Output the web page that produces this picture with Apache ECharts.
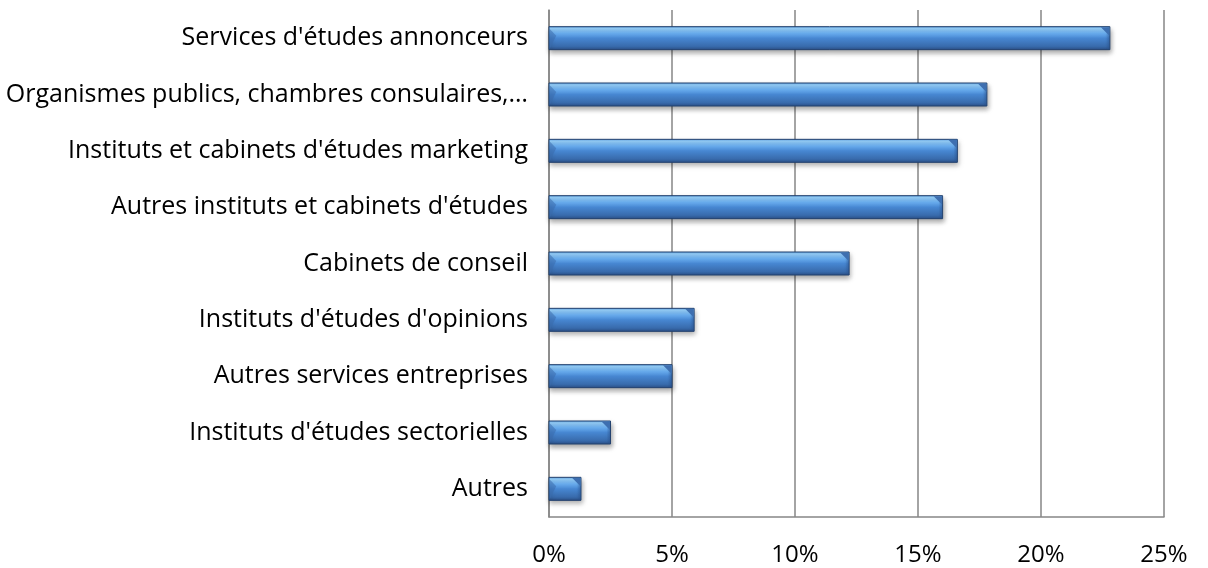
<!DOCTYPE html>
<html>
<head>
<meta charset="utf-8">
<script src="https://cdn.jsdelivr.net/npm/echarts@6/dist/echarts.min.js"></script>
<style>
	html, body { margin: 0; padding: 0; background: #fff; }
	#chart { width: 1208px; height: 568px; }
</style>
</head>
<body>
<div id="chart"></div>
<script>
// catégories, de bas en haut (l'axe Y catégorie part du bas)
var categories = [
	'Autres',
	'Instituts d\'études sectorielles',
	'Autres services entreprises',
	'Instituts d\'études d\'opinions',
	'Cabinets de conseil',
	'Autres instituts et cabinets d\'études',
	'Instituts et cabinets d\'études marketing',
	'Organismes publics, chambres consulaires,…',
	'Services d\'études annonceurs'
];
var values = [1.3, 2.5, 5.0, 5.9, 12.2, 16.0, 16.6, 17.8, 22.8];
var xTicks = [0, 5, 10, 15, 20, 25];

var chart = echarts.init(document.getElementById('chart'));

var BAR_H = 23;
var BEVEL = 9;

// barre façon Excel : dégradé + biseaux aux extrémités
function renderBar(params, api) {
	var idx = api.value(0);
	var val = api.value(1);
	var p0 = api.coord([0, idx]);
	var p1 = api.coord([val, idx]);
	var x0 = p0[0], x1 = p1[0];
	var y0 = p0[1] - BAR_H / 2, y1 = p0[1] + BAR_H / 2;
	var b = Math.min(BEVEL, (x1 - x0) / 2);
	var body = new echarts.graphic.LinearGradient(0, 0, 0, 1, [
		{ offset: 0, color: '#5a9fe4' },
		{ offset: 0.1, color: '#98d2fd' },
		{ offset: 0.3, color: '#6aaef0' },
		{ offset: 0.5, color: '#4787d2' },
		{ offset: 0.85, color: '#386aab' },
		{ offset: 1, color: '#2a4e85' }
	]);
	var edge = new echarts.graphic.LinearGradient(0, 0, 1, 0, [
		{ offset: 0, color: 'rgba(40,80,140,0)' },
		{ offset: 1, color: 'rgba(40,80,140,0.45)' }
	]);
	return {
		type: 'group',
		children: [{
			type: 'rect',
			shape: { x: x0, y: y0, width: x1 - x0, height: BAR_H },
			style: {
				fill: body,
				stroke: '#23426f',
				lineWidth: 1,
				shadowColor: 'rgba(0,0,0,0.35)',
				shadowBlur: 5,
				shadowOffsetX: 1,
				shadowOffsetY: 3
			}
		}, {
			type: 'rect',
			shape: { x: x1 - 4, y: y0 + 0.5, width: 3.5, height: BAR_H - 1 },
			style: { fill: edge }
		}, {
			type: 'polygon',
			shape: { points: [[x1 - b, y0 + 0.5], [x1 - 0.5, y0 + 0.5], [x1 - 0.5, y0 + b]] },
			style: { fill: '#3e6fb0' }
		}, {
			type: 'polygon',
			shape: { points: [[x0 + 0.5, y0 + 2], [x0 + b * 0.8, y0 + b], [x0 + 0.5, y1 - 0.5]] },
			style: { fill: '#3a6cad', opacity: 0.55 }
		}]
	};
}

var option = {
	animation: false,
	grid: {
		left: 549,
		right: 44,
		top: 10,
		bottom: 51
	},
	xAxis: {
		type: 'value',
		min: 0,
		max: 25,
		interval: 5,
		axisLine: { show: true, lineStyle: { color: '#868686', width: 1.5 } },
		axisTick: { show: false },
		splitLine: { show: true, lineStyle: { color: '#868686', width: 1.5 } },
		axisLabel: {
			margin: 26,
			color: '#000',
			fontFamily: 'Open Sans',
			fontSize: 24,
			formatter: function (v) { return v + '%'; }
		}
	},
	yAxis: {
		type: 'category',
		data: categories,
		axisLine: { show: true, lineStyle: { color: '#868686', width: 1.5 } },
		axisTick: { show: false },
		axisLabel: {
			margin: 21,
			color: '#000',
			fontFamily: 'Open Sans',
			fontSize: 25
		}
	},
	series: [{
		type: 'custom',
		renderItem: renderBar,
		encode: { x: 1, y: 0 },
		data: values.map(function (v, i) { return [i, v]; })
	}]
};
chart.setOption(option);
window.addEventListener('resize', chart.resize);
</script>
</body>
</html>
